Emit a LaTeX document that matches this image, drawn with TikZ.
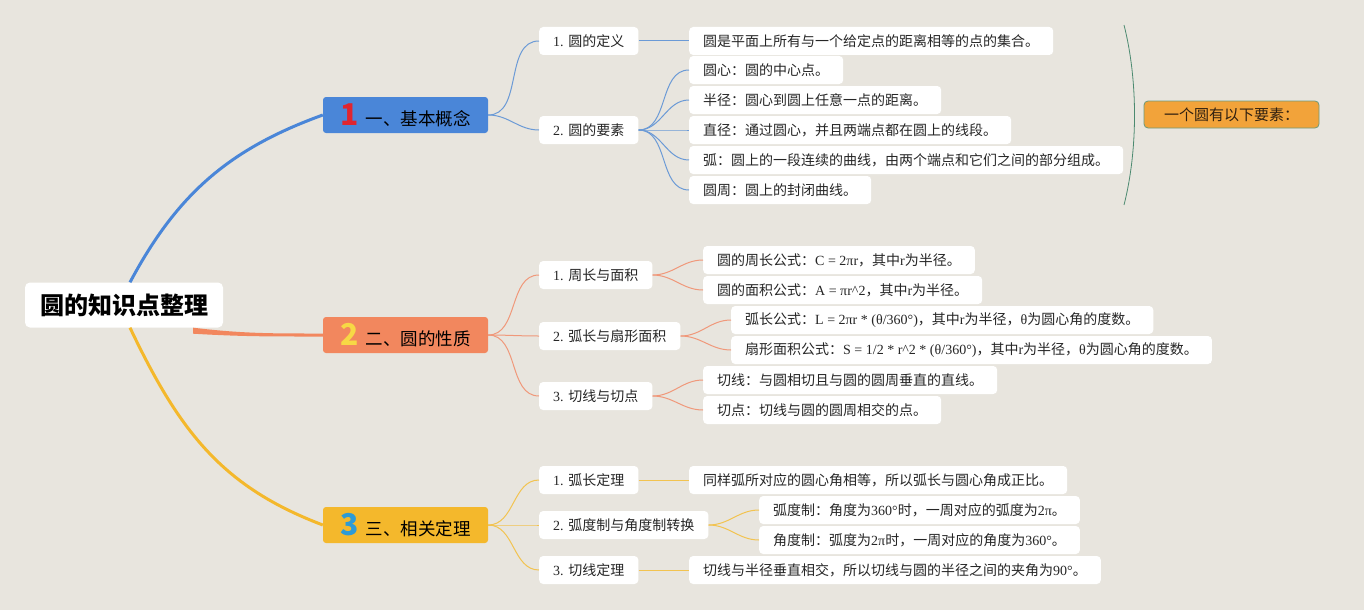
\documentclass[tikz,border=0pt]{standalone}
\usepackage{fontspec}
\setmainfont{Noto Sans CJK SC}
\newfontfamily\serifen{Liberation Serif}
\newcommand\en[1]{{\serifen #1}}
\usepackage{tikz}

\definecolor{bgc}{HTML}{E8E5DE}
\definecolor{topicblue}{HTML}{4A86D8}
\definecolor{topicorange}{HTML}{F2875E}
\definecolor{topicyellow}{HTML}{F4B82C}
\definecolor{numred}{HTML}{E0252F}
\definecolor{numyellow}{HTML}{F7D845}
\definecolor{numblue}{HTML}{2E9BD6}
\definecolor{lineblue}{HTML}{6B9AD6}
\definecolor{lineorange}{HTML}{F0987A}
\definecolor{lineyellow}{HTML}{F2C350}
\definecolor{sumfill}{HTML}{F2A33A}
\definecolor{sumline}{HTML}{6E9A7A}
\definecolor{brackc}{HTML}{4C8A70}

\newcommand\topicnum[2]{{\color{#1}\fontsize{30}{30}\selectfont\bfseries #2}\hspace{7pt}}

\tikzset{
  root/.style={rectangle, rounded corners=5pt, fill=white, minimum width=198pt, minimum height=45pt, text=black, font=\fontsize{24}{28}\selectfont\bfseries},
  topic/.style={rectangle, rounded corners=3pt, minimum width=165pt, minimum height=36pt, inner sep=0pt, text=black, font=\fontsize{17.5}{20}\selectfont},
  sub/.style={rectangle, rounded corners=4pt, fill=white, anchor=west, minimum height=28pt, inner xsep=14pt, inner ysep=2pt, text=black!85, font=\fontsize{14}{16}\selectfont},
  summary/.style={rectangle, rounded corners=4pt, fill=sumfill, draw=sumline, line width=0.8pt, minimum width=175pt, minimum height=27pt, text=black!75!brown, font=\fontsize{15}{18}\selectfont},
  trunk/.style={line width=3pt},
  twig/.style={line width=1pt}
}

\begin{document}
\begin{tikzpicture}[x=1pt, y=-1pt]
    \fill[bgc] (0,0) rectangle (1364,610);
    \useasboundingbox (0,0) rectangle (1364,610);

    % root and main topics
    \node (root) [root] at (124,305) {圆的知识点整理};
    \node (s1) [topic, fill=topicblue] at (405.5,115) {\topicnum{numred}{1}一、基本概念};
    \node (s2) [topic, fill=topicorange] at (405.5,335) {\topicnum{numyellow}{2}二、圆的性质};
    \node (s3) [topic, fill=topicyellow] at (405.5,525) {\topicnum{numblue}{3}三、相关定理};

    \draw[trunk, topicblue] ([xshift=6pt]root.north) .. controls +(47,-88) and +(-94,34) .. (s1.west);
    \fill[topicorange] ([xshift=-30pt]root.south east) .. controls +(50,6) and +(-50,0) .. ([yshift=1.5pt]s2.west)
        -- ([yshift=-1.5pt]s2.west) .. controls +(-50,0) and +(50,3) .. ([xshift=-30pt,yshift=-6pt]root.south east) -- cycle;
    \draw[trunk, topicyellow] ([xshift=6pt]root.south) .. controls +(50,105) and +(-100,-38) .. (s3.west);

    % 一、基本概念
    \node (a1) [sub] at (539,41) {\en{1. }圆的定义};
    \node (a2) [sub] at (539,130) {\en{2. }圆的要素};
    \node (d0) [sub] at (689,41) {圆是平面上所有与一个给定点的距离相等的点的集合。};
    \node (e1) [sub] at (689,70) {圆心：圆的中心点。};
    \node (e2) [sub] at (689,100) {半径：圆心到圆上任意一点的距离。};
    \node (e3) [sub] at (689,130) {直径：通过圆心，并且两端点都在圆上的线段。};
    \node (e4) [sub] at (689,160) {弧：圆上的一段连续的曲线，由两个端点和它们之间的部分组成。};
    \node (e5) [sub] at (689,190) {圆周：圆上的封闭曲线。};

    \draw[twig, lineblue] (s1.east) to[out=0,in=180] (a1.west);
    \draw[twig, lineblue] (s1.east) to[out=0,in=180] (a2.west);
    \draw[twig, lineblue] (a1.east) -- (d0.west);
    \foreach \e in {e1,e2,e3,e4,e5}
        \draw[twig, lineblue] (a2.east) to[out=0,in=180] (\e.west);

    % summary of the elements
    \coordinate (brtop) at (1124,25);
    \coordinate (brbot) at (1124,205);
    \draw[brackc, line width=0.8pt] (brtop) .. controls +(14,55) and +(14,-55) .. (brbot);
    \node (sum) [summary] at (1231.5,114.5) {一个圆有以下要素：};

    % 二、圆的性质
    \node (p1) [sub] at (539,275) {\en{1. }周长与面积};
    \node (p2) [sub] at (539,336) {\en{2. }弧长与扇形面积};
    \node (p3) [sub] at (539,396) {\en{3. }切线与切点};
    \node (f1) [sub] at (703,260) {圆的周长公式：\en{C = 2πr}，其中\en{r}为半径。};
    \node (f2) [sub] at (703,290) {圆的面积公式：\en{A = πr\textasciicircum 2}，其中\en{r}为半径。};
    \node (g1) [sub] at (731,320) {弧长公式：\en{L = 2πr * (θ/360°)}，其中\en{r}为半径，\en{θ}为圆心角的度数。};
    \node (g2) [sub] at (731,350) {扇形面积公式：\en{S = 1/2 * r\textasciicircum 2 * (θ/360°)}，其中\en{r}为半径，\en{θ}为圆心角的度数。};
    \node (h1) [sub] at (703,380) {切线：与圆相切且与圆的圆周垂直的直线。};
    \node (h2) [sub] at (703,410) {切点：切线与圆的圆周相交的点。};

    \foreach \p in {p1,p2,p3}
        \draw[twig, lineorange] (s2.east) to[out=0,in=180] (\p.west);
    \draw[twig, lineorange] (p1.east) to[out=0,in=180] (f1.west);
    \draw[twig, lineorange] (p1.east) to[out=0,in=180] (f2.west);
    \draw[twig, lineorange] (p2.east) to[out=0,in=180] (g1.west);
    \draw[twig, lineorange] (p2.east) to[out=0,in=180] (g2.west);
    \draw[twig, lineorange] (p3.east) to[out=0,in=180] (h1.west);
    \draw[twig, lineorange] (p3.east) to[out=0,in=180] (h2.west);

    % 三、相关定理
    \node (t1) [sub] at (539,480) {\en{1. }弧长定理};
    \node (t2) [sub] at (539,525) {\en{2. }弧度制与角度制转换};
    \node (t3) [sub] at (539,570) {\en{3. }切线定理};
    \node (k1) [sub] at (689,480) {同样弧所对应的圆心角相等，所以弧长与圆心角成正比。};
    \node (m1) [sub] at (759,510) {弧度制：角度为\en{360°}时，一周对应的弧度为\en{2π}。};
    \node (m2) [sub] at (759,540) {角度制：弧度为\en{2π}时，一周对应的角度为\en{360°}。};
    \node (n1) [sub] at (689,570) {切线与半径垂直相交，所以切线与圆的半径之间的夹角为\en{90°}。};

    \foreach \t in {t1,t2,t3}
        \draw[twig, lineyellow] (s3.east) to[out=0,in=180] (\t.west);
    \draw[twig, lineyellow] (t1.east) -- (k1.west);
    \draw[twig, lineyellow] (t2.east) to[out=0,in=180] (m1.west);
    \draw[twig, lineyellow] (t2.east) to[out=0,in=180] (m2.west);
    \draw[twig, lineyellow] (t3.east) -- (n1.west);
\end{tikzpicture}
\end{document}
